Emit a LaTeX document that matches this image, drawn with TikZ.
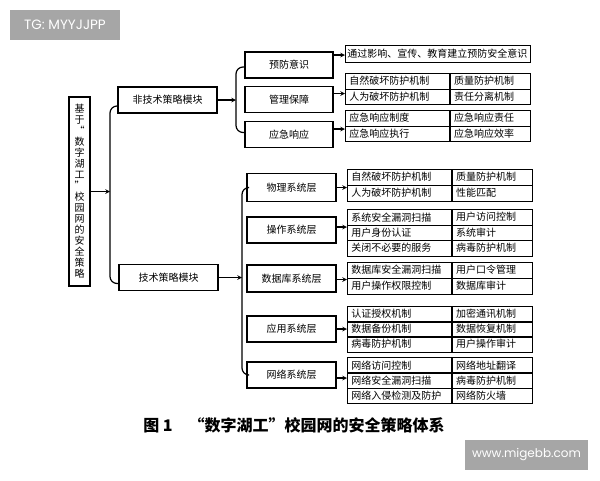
\documentclass[tikz,border=0pt]{standalone}
\usepackage{fontspec}
\newfontfamily\cjk{Noto Sans CJK SC}
\newfontfamily\wmfont{Poppins}
\usetikzlibrary{arrows}
\tikzset{
    >=stealth, % filled arrow heads
    every node/.style={font=\cjk\fontsize{10}{11}\selectfont},
    modbox/.style={draw, line width=1.5pt, minimum width=99pt, minimum height=26pt, inner sep=0pt}, % the two modules
    layerbox/.style={draw, line width=1.5pt, minimum width=88pt, minimum height=26pt, inner sep=0pt}, % one layer of a module
    lcell/.style={draw, line width=0.8pt, anchor=north west, text width=96pt, inner xsep=4pt, inner ysep=0pt, minimum height=15.5pt, align=left},
    rcell/.style={draw, line width=0.8pt, anchor=north west, text width=72pt, inner xsep=4pt, inner ysep=0pt, minimum height=15.5pt, align=left},
    link/.style={->, line width=1.1pt},
    brace/.style={line width=1.2pt, rounded corners=7pt},
    wm/.style={fill=black!35, text=white, font=\wmfont\fontsize{12}{12}\selectfont, inner sep=0pt},
}

\begin{document}
\begin{tikzpicture}[x=1pt, y=-1pt]
    \useasboundingbox (0,0) rectangle (600,480);

    % watermarks
    \node[wm, font=\wmfont\fontsize{13.5}{13.5}\selectfont, minimum width=110pt, minimum height=30pt] (tg) at (65,25) {TG: MYYJJPP};
    \node[wm, minimum width=123pt, minimum height=30pt] (web) at (526.5,455) {www.migebb.com};

    % root
    \node[draw, line width=1.5pt, minimum width=21pt, minimum height=189pt, text width=10pt, inner sep=0pt, align=center] (root) at (79.5,191.5)
        {基\\于\\“\\数\\字\\湖\\工\\”\\校\\园\\网\\的\\安\\全\\策\\略};
    \coordinate (jr) at (110,191.5);

    % modules
    \node[modbox] (ntm) at (167.5,100) {非技术策略模块};
    \node[modbox] (tm) at (168.5,277.5) {技术策略模块};

    % non-technical layers
    \node[layerbox] (prev) at (289,65) {预防意识};
    \node[layerbox] (mgmt) at (289,99.5) {管理保障};
    \node[layerbox] (emer) at (289,134.5) {应急响应};
    \coordinate (jn) at (236,100);

    % technical layers
    \node[layerbox, minimum width=89pt, minimum height=28pt] (phys) at (291.5,187.5) {物理系统层};
    \node[layerbox, minimum width=89pt] (os) at (291.5,230) {操作系统层};
    \node[layerbox, minimum width=89pt, minimum height=27pt] (dbl) at (291.5,278.5) {数据库系统层};
    \node[layerbox, minimum width=89pt] (app) at (291.5,329) {应用系统层};
    \node[layerbox, minimum width=89pt] (net) at (291.5,375) {网络系统层};
    \coordinate (jt) at (242,277.5);

    % tables
    \node[draw, line width=0.8pt, anchor=north west, minimum width=185pt, minimum height=17pt, inner xsep=2pt, inner ysep=0pt, text width=181pt, align=left] (aware) at (345,45)
        {通过影响、宣传、教育建立预防安全意识};
    \foreach \l/\r [count=\i] in {自然破坏防护机制/质量防护机制, 人为破坏防护机制/责任分离机制}
        {\node[lcell] (mg\i) at (345,73+15.5*\i-15.5) {\l}; \node[rcell] at (mg\i.north east) {\r};}
    \foreach \l/\r [count=\i] in {应急响应制度/应急响应责任, 应急响应执行/应急响应效率}
        {\node[lcell] (em\i) at (345,110+15.5*\i-15.5) {\l}; \node[rcell] at (em\i.north east) {\r};}
    \foreach \l/\r [count=\i] in {自然破坏防护机制/质量防护机制, 人为破坏防护机制/性能匹配}
        {\node[lcell] (ph\i) at (347,169+16*\i-16) {\l}; \node[rcell] at (ph\i.north east) {\r};}
    \foreach \l/\r [count=\i] in {系统安全漏洞扫描/用户访问控制, 用户身份认证/系统审计, 关闭不必要的服务/病毒防护机制}
        {\node[lcell] (oc\i) at (347,209+15.5*\i-15.5) {\l}; \node[rcell] at (oc\i.north east) {\r};}
    \foreach \l/\r [count=\i] in {数据库安全漏洞扫描/用户口令管理, 用户操作权限控制/数据库审计}
        {\node[lcell] (dc\i) at (347,262+16*\i-16) {\l}; \node[rcell] at (dc\i.north east) {\r};}
    \foreach \l/\r [count=\i] in {认证授权机制/加密通讯机制, 数据备份机制/数据恢复机制, 病毒防护机制/用户操作审计}
        {\node[lcell] (ac\i) at (347,306+15*\i-15) {\l}; \node[rcell] at (ac\i.north east) {\r};}
    \foreach \l/\r [count=\i] in {网络访问控制/网络地址翻译, 网络安全漏洞扫描/病毒防护机制, 网络入侵检测及防护/网络防火墙}
        {\node[lcell] (nc\i) at (347,357+15.3*\i-15.3) {\l}; \node[rcell] at (nc\i.north east) {\r};}

    % caption
    \node[font=\cjk\bfseries\fontsize{16}{16}\selectfont] (cap) at (294,425) {图 1\quad“数字湖工”校园网的安全策略体系};

    % connectors
    \draw[link] (root.east |- jr) -- (jr);
    \draw[brace] ([yshift=-6pt]ntm.west) -| (jr) |- ([yshift=-6pt]tm.west);
    \draw[link] (ntm.east) -- (jn);
    \draw[brace] ([yshift=-2pt]prev.west) -| (jn) |- ([yshift=2pt]emer.west);
    \draw[link] (tm.east) -- (jt);
    \draw[brace] (phys.west) -| (jt) |- (net.west);

    \draw[link] ([yshift=10pt]prev.east) -- ([yshift=10pt]prev.east -| aware.west);
    \draw[link] ([yshift=6pt]mgmt.east) -- ([yshift=6pt]mgmt.east -| mg1.west);
    \draw[link] ([yshift=5.5pt]emer.east) -- ([yshift=5.5pt]emer.east -| em1.west);
    \draw[link] (phys.east) -- (phys.east -| ph1.west);
    \draw[link] ([yshift=3pt]os.east) -- ([yshift=3pt]os.east -| oc1.west);
    \draw[link] ([yshift=-1pt]dbl.east) -- ([yshift=-1pt]dbl.east -| dc1.west);
    \draw[link] (app.east) -- (app.east -| ac1.west);
    \draw[link] ([yshift=-3pt]net.east) -- ([yshift=-3pt]net.east -| nc1.west);
\end{tikzpicture}
\end{document}
